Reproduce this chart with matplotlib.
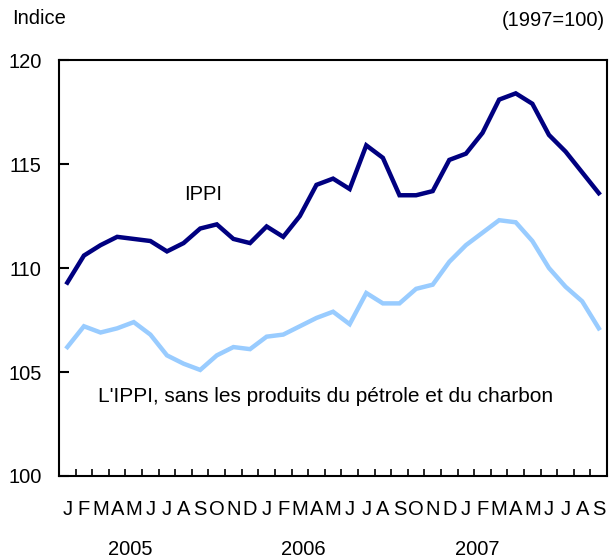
import matplotlib
matplotlib.use("Agg")
import matplotlib.pyplot as plt
import numpy as np

plt.rcParams['font.family'] = ['Liberation Sans', 'DejaVu Sans']

# Monthly index values, Jan 2005 - Sep 2007
months = list("JFMAMJJASOND") * 2 + list("JFMAMJJAS")
years = ["2005", "2006", "2007"]
ippi = [109.3, 110.6, 111.1, 111.5, 111.4, 111.3, 110.8, 111.2, 111.9, 112.1, 111.4, 111.2,
        112.0, 111.5, 112.5, 114.0, 114.3, 113.8, 115.9, 115.3, 113.5, 113.5, 113.7, 115.2,
        115.5, 116.5, 118.1, 118.4, 117.9, 116.4, 115.6, 114.6, 113.6]
ippi_ex = [106.2, 107.2, 106.9, 107.1, 107.4, 106.8, 105.8, 105.4, 105.1, 105.8, 106.2, 106.1,
           106.7, 106.8, 107.2, 107.6, 107.9, 107.3, 108.8, 108.3, 108.3, 109.0, 109.2, 110.3,
           111.1, 111.7, 112.3, 112.2, 111.3, 110.0, 109.1, 108.4, 107.1]

n = len(months)
x = np.arange(n) + 0.5
fs = 14.5

fig = plt.figure(figsize=(6.11, 5.59), dpi=100)
ax = fig.add_axes([0.0966, 0.1485, 0.897, 0.744])

ax.plot(x, ippi, color="#000080", lw=3.2, solid_joinstyle="miter")
ax.plot(x, ippi_ex, color="#99ccff", lw=3.2, solid_joinstyle="miter")

ax.set_xlim(0, n)
ax.set_ylim(100, 120)
ax.set_yticks([100, 105, 110, 115, 120])
ax.tick_params(axis="y", direction="in", length=7, width=1.5, labelsize=fs, pad=12.5)

# boundary ticks (major) and month labels (minor)
ax.set_xticks(np.arange(n + 1))
ax.set_xticklabels([])
ax.tick_params(axis="x", which="major", direction="in", length=5, width=1.2)
ax.set_xticks(x, minor=True)
ax.set_xticklabels(months, minor=True)
ax.tick_params(axis="x", which="minor", length=0, labelsize=fs, pad=17)

for s in ax.spines.values():
    s.set_linewidth(1.5)

for yr, xp in zip(years, [4.3, 14.7, 25.2]):
    ax.text(xp, 96.45, yr, ha="center", va="center", fontsize=fs)

ax.text(8.67, 113.56, "IPPI", ha="center", va="center", fontsize=fs)
ax.text(2.35, 103.8, "L'IPPI, sans les produits du pétrole et du charbon",
        ha="left", va="center", fontsize=15)

fig.text(12 / 611, 1 - 19 / 559, "Indice", ha="left", va="center", fontsize=fs)
fig.text(605 / 611, 1 - 20 / 559, "(1997=100)", ha="right", va="center", fontsize=fs)

fig.savefig("out.png", dpi=100)
